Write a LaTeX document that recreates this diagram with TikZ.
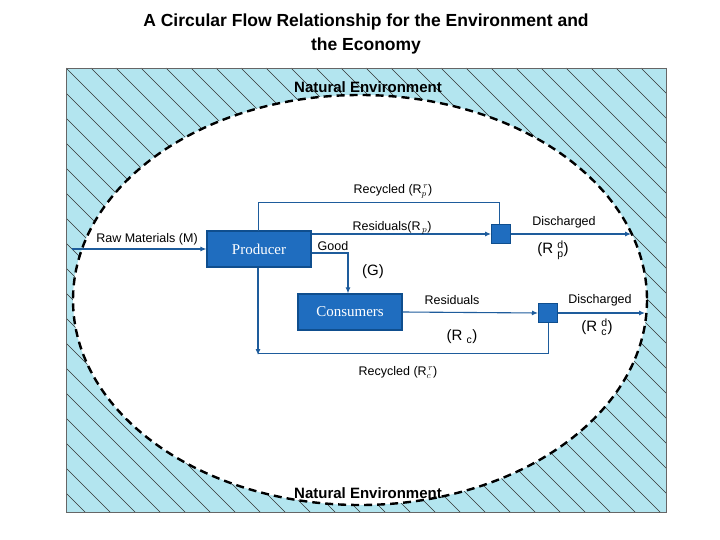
\documentclass[tikz,border=0pt]{standalone}
\usepackage{fontspec}
\setmainfont{Liberation Sans}
\newfontfamily\serifb{Liberation Serif}
\usetikzlibrary{arrows.meta}
\definecolor{bgblue}{HTML}{B3E5EF}
\definecolor{boxblue}{HTML}{1F6DBF}
\definecolor{boxedge}{HTML}{0F4E8E}
\definecolor{flow}{HTML}{1E5C9C}
\begin{document}
\begin{tikzpicture}[x=1pt,y=-1pt,
  blk/.style={draw=boxedge,line width=1.2pt,fill=boxblue,text=white,font=\serifb\fontsize{15}{17}\selectfont,minimum width=104pt,minimum height=36pt,inner sep=0},
  sq/.style={draw=boxedge,line width=1pt,fill=boxblue,minimum size=19pt,inner sep=0},
  fl/.style={draw=flow,line width=1.1pt,-{Latex[length=6pt,width=5pt]}},
  ln/.style={draw=flow,line width=0.8pt},
  lab/.style={font=\fontsize{12.5}{14}\selectfont,inner sep=1pt},
  big/.style={font=\fontsize{15}{17}\selectfont,inner sep=1pt},
  ne/.style={font=\bfseries\fontsize{15}{17}\selectfont}]
\useasboundingbox (0,0) rectangle (720,540);
\node[font=\bfseries\fontsize{17.5}{24}\selectfont,align=center] (title) at (366,34) {A Circular Flow Relationship for the Environment and\\the Economy};
\fill[bgblue] (66,68) rectangle (666,512);
\begin{scope}
\clip (66,68) rectangle (666,512);
\foreach \i in {0,...,48} {\draw[black!80,line width=0.6pt] ({66-450+\i*25},68) -- ++(460,460);}
\end{scope}
\draw[black!60,line width=0.5pt] (66,68) rectangle (666,512);
\draw[fill=white,line width=2.4pt,dash pattern=on 8pt off 5pt] (360,300) ellipse [x radius=287,y radius=205];
\node[ne] (ne1) at (368,87) {Natural Environment};
\node[ne] (ne2) at (368,493) {Natural Environment};
\node[blk] (prod) at (259,249) {Producer};
\node[blk] (cons) at (350,312) {Consumers};
\node[sq] (s1) at (501,234) {};
\node[sq] (s2) at (548,313) {};
\coordinate (rawL) at (72,249);
\coordinate (d1) at (631,234);
\coordinate (d2) at (645,313);
\coordinate (bl) at (258,355);
\draw[fl] (rawL) -- (prod.west |- rawL);
\draw[fl] (prod.east |- s1.west) -- (s1.west);
\draw[ln] (258,231) -- (258,202) -- (499,202) -- (s1.north -| 499,0);
\draw[fl] (prod.east |- 0,253) -- (348,253) -- (cons.north -| 348,0);
\draw[fl] (cons.east) -- (s2.west);
\draw[fl] (s1.east) -- (d1);
\draw[fl] (s2.east) -- (d2);
\draw[ln] (s2.south) -- (548,353) -- (258,353);
\draw[fl] (prod.south -| 258,0) -- (bl);
\node[lab] (t1) at (393,191) {Recycled (R$_p^{\,r}$)};
\node[lab] (t2) at (392,228) {Residuals(R$_{\,p}$)};
\node[lab] (t3) at (333,246) {Good};
\node[big] (t4) at (373,272) {(G)};
\node[lab] (t5) at (147,239) {Raw Materials (M)};
\node[lab] (t6) at (564,222) {Discharged};
\node[big] (t7) at (553,250) {(R $^{\rm d}_{\rm p}$)};
\node[lab] (t8) at (452,300) {Residuals};
\node[big] (t9) at (462,337) {(R $_{\rm c}$)};
\node[lab] (t10) at (600,300) {Discharged};
\node[big] (t11) at (597,327) {(R $^{\rm d}_{\rm c}$)};
\node[lab] (t12) at (398,372) {Recycled (R$_c^{\,r}$)};
\end{tikzpicture}
\end{document}
